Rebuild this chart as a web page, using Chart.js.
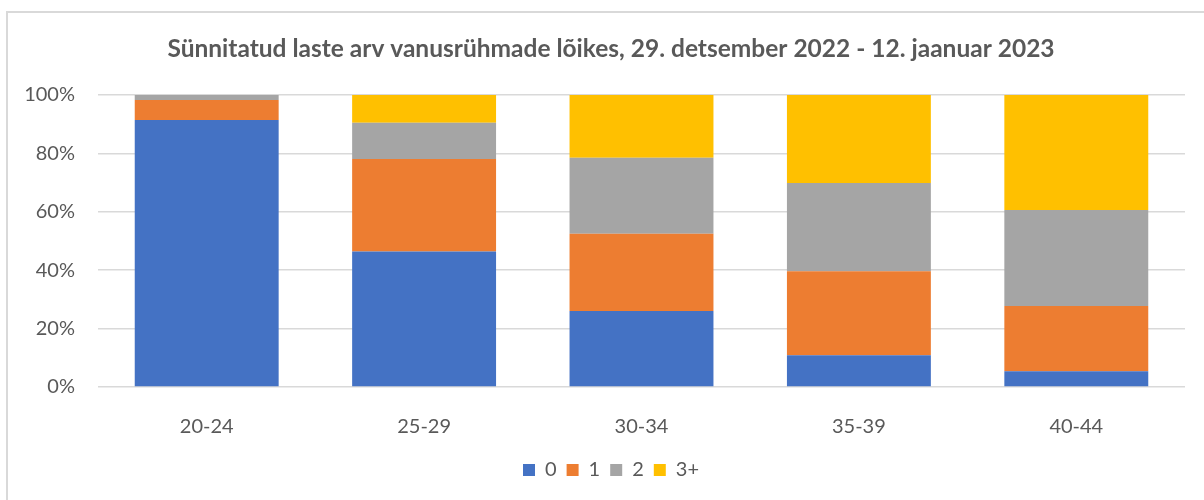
<!DOCTYPE html>
<html>
<head>
<meta charset="utf-8">
<script src="https://cdn.jsdelivr.net/npm/chart.js@4/dist/chart.umd.min.js"></script>
<style>
  body { margin: 0; background: #fff; }
  #wrap { position: relative; width: 1204px; height: 500px; overflow: hidden; }
  #frame { position: absolute; left: 6px; top: 11px; width: 1300px; height: 600px; border: 2px solid #d9d9d9; }
  canvas { position: absolute; left: 0; top: 0; }
</style>
</head>
<body>
<div id="wrap">
  <div id="frame"></div>
  <canvas id="chart" width="1204" height="500"></canvas>
</div>
<script>
// Vanusrühmad
const vanused = ['20-24', '25-29', '30-34', '35-39', '40-44'];

// Osakaal (%) laste arvu järgi
const lapsi0 = [91.4, 46.4, 26.0, 10.9, 5.4];
const lapsi1 = [6.9, 31.7, 26.5, 28.7, 22.3];
const lapsi2 = [1.7, 12.4, 26.0, 30.3, 32.9];
const lapsi3 = [0, 9.5, 21.5, 30.1, 39.4];

const seeriad = ['0', '1', '2', '3+'];
const varvid = ['#4472C4', '#ED7D31', '#A5A5A5', '#FFC000'];

const pealkiri = 'Sünnitatud laste arv vanusrühmade lõikes, 29. detsember 2022 - 12. jaanuar 2023';
const teksti = '#595959';

const andmed = [lapsi0, lapsi1, lapsi2, lapsi3];

new Chart(document.getElementById('chart'), {
    type: 'bar',
    data: {
        labels: vanused,
        datasets: seeriad.map((nimi, i) => ({
            label: nimi,
            data: andmed[i],
            backgroundColor: varvid[i],
            borderWidth: 0,
            categoryPercentage: 1,
            barPercentage: 0.662
        }))
    },
    options: {
        responsive: false,
        animation: false,
        layout: {
            padding: { left: 20, right: 2, top: 0, bottom: 10 }
        },
        plugins: {
            title: {
                display: true,
                text: pealkiri,
                color: teksti,
                font: { family: 'Lato', size: 24.5, weight: 'bold' },
                padding: { top: 34, bottom: 31.6 }
            },
            legend: {
                position: 'bottom',
                labels: {
                    color: teksti,
                    font: { family: 'Lato', size: 20 },
                    boxWidth: 12,
                    boxHeight: 12,
                    padding: 10
                }
            },
            tooltip: { enabled: false }
        },
        scales: {
            x: {
                stacked: true,
                grid: { display: false },
                border: { display: false },
                ticks: {
                    color: teksti,
                    font: { family: 'Lato', size: 20 },
                    padding: 20
                },
                afterFit: (s) => { s.height = 63; }
            },
            y: {
                stacked: true,
                min: 0,
                max: 100,
                grid: { color: '#d9d9d9', lineWidth: 1.5, drawTicks: false },
                border: { display: false },
                ticks: {
                    stepSize: 20,
                    color: teksti,
                    font: { family: 'Lato', size: 20 },
                    padding: 23,
                    callback: (v) => v + '%'
                },
                afterFit: (s) => { s.width = 78; }
            },
            // tühi parem telg, et joonis jääks paremalt servast eemale
            parem: {
                type: 'linear',
                position: 'right',
                grid: { display: false },
                border: { display: false },
                ticks: { display: false },
                afterFit: (s) => { s.width = 17; }
            }
        }
    }
});
</script>
</body>
</html>
